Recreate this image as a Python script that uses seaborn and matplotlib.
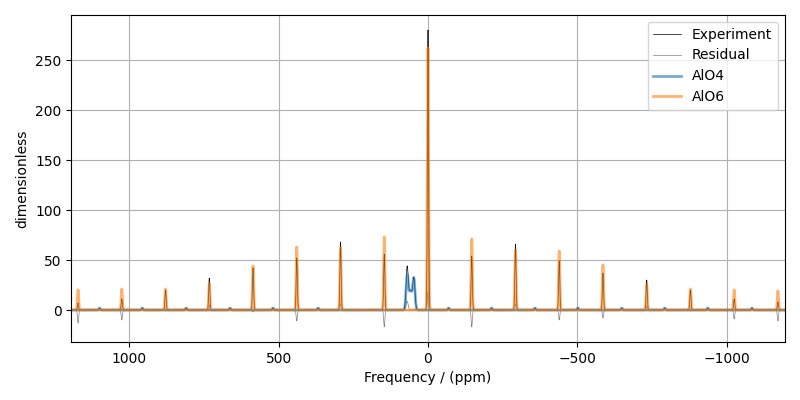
import matplotlib
matplotlib.use("Agg")
import matplotlib.pyplot as plt
import numpy as np
import pandas as pd
import seaborn as sns

# spinning sideband positions (ppm)
sideband_ppm = [1172, 1025.5, 879, 732.5, 586, 439.5, 293, 146.5, 0,
                -146.5, -293, -439.5, -586, -732.5, -879, -1025.5, -1172]
# peak heights of the experiment and of the AlO6 fit at each sideband
exp_heights = [7, 11, 20, 32, 42, 52, 68, 56, 280, 54, 66, 49, 37, 30, 20, 11, 8]
alo6_heights = [20, 21, 21, 27, 44, 63, 62, 73, 262, 71, 60, 59, 45, 26, 21, 20, 19]

# AlO4 centre band: two horns plus a plateau between them
alo4_centres = [70, 47, 58.5]
alo4_fit_heights = [30, 27, 19]
alo4_exp_heights = [39, 28, 19]
alo4_widths = [3.5, 3.5, 7]
# small AlO4 sidebands
alo4_sb_ppm = [1100, 957, 810, 663, 519, 368, -69, -213, -358, -502, -649, -793, -937, -1085]
alo4_sb_heights = [2, 2, 2, 2, 2, 2, 2, 2, 2, 2, 2, 2, 2, 2]

ppm = np.arange(1200, -1200, -0.5)


def band(pos, heights, widths):
    y = np.zeros_like(ppm)
    for p, h, w in zip(pos, heights, widths):
        y += h * np.exp(-0.5 * ((ppm - p) / w) ** 2)
    return y


sb_w = [2.0] * len(sideband_ppm)
alo6 = band(sideband_ppm, alo6_heights, sb_w)
alo4 = band(alo4_centres, alo4_fit_heights, alo4_widths) + \
    band(alo4_sb_ppm, alo4_sb_heights, [2.5] * len(alo4_sb_ppm))
experiment = band(sideband_ppm, exp_heights, sb_w) + \
    band(alo4_centres, alo4_exp_heights, alo4_widths) + \
    band(alo4_sb_ppm, alo4_sb_heights, [2.5] * len(alo4_sb_ppm))
residual = experiment - alo4 - alo6

df = pd.DataFrame({'ppm': ppm, 'Experiment': experiment, 'Residual': residual,
                   'AlO4': alo4, 'AlO6': alo6})

fig, ax = plt.subplots(figsize=(8, 4), dpi=100)
sns.lineplot(data=df, x='ppm', y='Experiment', color='k', linewidth=0.5,
             label='Experiment', sort=False, estimator=None, ax=ax)
sns.lineplot(data=df, x='ppm', y='Residual', color='gray', linewidth=0.5,
             label='Residual', sort=False, estimator=None, ax=ax)
sns.lineplot(data=df, x='ppm', y='AlO4', color='C0', linewidth=2, alpha=0.6,
             label='AlO4', sort=False, estimator=None, ax=ax)
sns.lineplot(data=df, x='ppm', y='AlO6', color='C1', linewidth=2, alpha=0.6,
             label='AlO6', sort=False, estimator=None, ax=ax)

ax.set_xlim(1195, -1195)
ax.set_ylim(-32, 295)
ax.set_xlabel('Frequency / (ppm)')
ax.set_ylabel('dimensionless')
ax.grid(True)
ax.legend(loc='upper right')
fig.subplots_adjust(left=0.089, right=0.981, top=0.9625, bottom=0.145)
fig.savefig('out.png')
